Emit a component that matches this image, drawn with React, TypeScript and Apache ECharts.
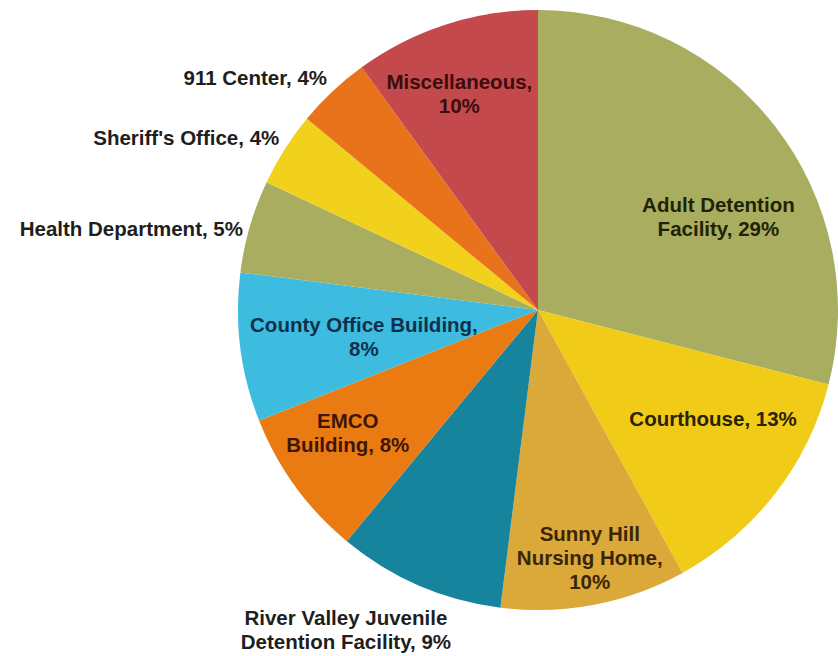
import React, { useEffect, useRef } from "react";
import * as echarts from "echarts";

// ---- data ----
const CATEGORIES = [
  "Adult Detention\nFacility",
  "Courthouse",
  "Sunny Hill\nNursing Home",
  "River Valley Juvenile\nDetention Facility",
  "EMCO\nBuilding",
  "County Office Building",
  "Health Department",
  "Sheriff's Office",
  "911 Center",
  "Miscellaneous",
];
const SHARES = [29, 13, 10, 9, 8, 8, 5, 4, 4, 10];
const PCT_ON_NEW_LINE = [false, false, true, false, false, true, false, false, false, true];

// ---- styles ----
const SLICE_COLORS = [
  "#a9ad5f", "#f0cc18", "#dba83a", "#17849e", "#ea7a12",
  "#3dbce0", "#a9ad5f", "#f2d11c", "#e8731a", "#c4494c",
];
const LABEL_COLORS = [
  "#1f2306", "#2b2206", "#3a2506", "#1e1e1e", "#3d1606",
  "#10304a", "#1e1e1e", "#1e1e1e", "#1e1e1e", "#3b0d0d",
];
// label anchor: distance from centre (px) and angular nudge (deg) from the slice mid-angle
const LABEL_PLACEMENT = [
  { r: 203, dA: 10.5, align: "center" },
  { r: 206, dA: -6, align: "center" },
  { r: 253, dA: -1, align: "center" },
  { r: 373, dA: 7.6, align: "center" },
  { r: 226, dA: 3.3, align: "center" },
  { r: 176, dA: -1.3, align: "center" },
  { r: 306, dA: -0.8, align: "right" },
  { r: 311, dA: 1.3, align: "right" },
  { r: 314, dA: 1.0, align: "right" },
  { r: 230, dA: -2, align: "center" },
];

const CX = 538;
const CY = 310;
const R = 300;

export default function App() {
  const ref = useRef<HTMLDivElement>(null);

  useEffect(() => {
    if (!ref.current) return;
    const chart = echarts.init(ref.current, undefined, { renderer: "svg" });
    const total = SHARES.reduce((a, b) => a + b, 0);
    const cum: number[] = [];
    SHARES.reduce((acc, v, i) => {
      cum[i] = acc;
      return acc + v;
    }, 0);

    const data = CATEGORIES.map((name, i) => ({
      name,
      value: SHARES[i],
      itemStyle: { color: SLICE_COLORS[i] },
      label: { color: LABEL_COLORS[i] },
    }));

    chart.setOption({
      animation: false,
      backgroundColor: "#ffffff",
      series: [
        {
          type: "pie",
          center: [CX, CY],
          radius: [0, R],
          startAngle: 90,
          clockwise: true,
          avoidLabelOverlap: false,
          data,
          itemStyle: { borderWidth: 0 },
          emphasis: { disabled: true },
          labelLine: { show: false },
          label: {
            show: true,
            position: "inside",
            fontFamily: "Liberation Sans, Arial, sans-serif",
            fontWeight: "bold",
            fontSize: 20.5,
            lineHeight: 24,
            formatter: (p: any) =>
              `${p.name},${PCT_ON_NEW_LINE[p.dataIndex] ? "\n" : " "}${p.value}%`,
          },
          labelLayout: (p: any) => {
            const i = p.dataIndex;
            const mid = ((cum[i] + SHARES[i] / 2) / total) * 360;
            const pl = LABEL_PLACEMENT[i];
            const a = ((mid + pl.dA) * Math.PI) / 180;
            return {
              x: CX + pl.r * Math.sin(a),
              y: CY - pl.r * Math.cos(a),
              align: pl.align,
              verticalAlign: "middle",
            };
          },
        },
      ],
    });
    return () => chart.dispose();
  }, []);

  return (
    <div
      ref={ref}
      style={{ position: "absolute", left: 0, top: 0, width: 838, height: 656 }}
    />
  );
}
